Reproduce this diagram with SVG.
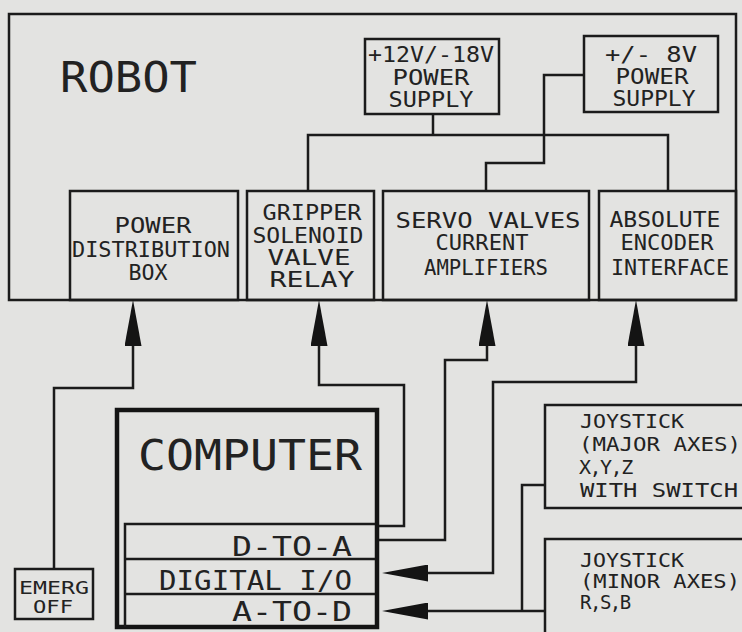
<svg xmlns="http://www.w3.org/2000/svg" width="742" height="632" viewBox="0 0 742 632">
<defs>
<style>
.bx{fill:none;stroke:#1b1b1b;stroke-width:2.5}
.thick{fill:none;stroke:#141414;stroke-width:4.5}
.ln{fill:none;stroke:#1b1b1b;stroke-width:2.5;stroke-linejoin:miter}
text{font-family:"DejaVu Sans Mono","Liberation Mono",monospace;fill:#222;}
.c{text-anchor:middle}
.t22{font-size:21px}
.t20{font-size:20px}
.t19{font-size:19px}
.t17{font-size:17px}
.t28{font-size:27px}
.big{font-size:42px}
.tight{letter-spacing:-1.5px}
</style>
<marker id="ah" markerUnits="userSpaceOnUse" viewBox="0 0 46 17" refX="36" refY="8.5" markerWidth="46" markerHeight="17" orient="auto-start-reverse">
<path d="M0,0 L46,8.5 L0,17 Z" fill="#141414"/>
</marker>
</defs>
<rect width="742" height="632" fill="#e3e3e1"/>

<g id="robot">
<rect class="bx" x="9" y="14" width="727" height="286"/>
<text class="big" x="60" y="92" textLength="137" lengthAdjust="spacingAndGlyphs">ROBOT</text>
</g>

<g id="ps12">
<rect class="bx" x="365" y="39" width="134" height="75"/>
<text class="t22 c" x="431" y="62" textLength="126" lengthAdjust="spacingAndGlyphs">+12V/-18V</text>
<text class="t22 c" x="431" y="85" textLength="77" lengthAdjust="spacingAndGlyphs">POWER</text>
<text class="t22 c" x="431" y="107" textLength="85" lengthAdjust="spacingAndGlyphs">SUPPLY</text>
</g>

<g id="ps8">
<rect class="bx" x="584" y="36" width="134" height="76"/>
<text class="t22 c" x="651" y="62" textLength="92" lengthAdjust="spacingAndGlyphs" xml:space="preserve">+/- 8V</text>
<text class="t22 c" x="652" y="84" textLength="73" lengthAdjust="spacingAndGlyphs">POWER</text>
<text class="t22 c" x="654" y="106" textLength="83" lengthAdjust="spacingAndGlyphs">SUPPLY</text>
</g>

<g id="powerdist">
<rect class="bx" x="70" y="191" width="168" height="109"/>
<text class="t22 c" x="153" y="233" textLength="77" lengthAdjust="spacingAndGlyphs">POWER</text>
<text class="t22 c" x="151" y="257" textLength="158" lengthAdjust="spacingAndGlyphs">DISTRIBUTION</text>
<text class="t22 c" x="148" y="280" textLength="39" lengthAdjust="spacingAndGlyphs">BOX</text>
</g>

<g id="gripper">
<rect class="bx" x="247" y="191" width="127" height="109"/>
<text class="t22 c" x="312" y="220" textLength="99" lengthAdjust="spacingAndGlyphs">GRIPPER</text>
<text class="t22 c" x="308" y="243" textLength="111" lengthAdjust="spacingAndGlyphs">SOLENOID</text>
<text class="t22 c" x="309" y="265" textLength="83" lengthAdjust="spacingAndGlyphs">VALVE</text>
<text class="t22 c" x="312" y="287" textLength="85" lengthAdjust="spacingAndGlyphs">RELAY</text>
</g>

<g id="servo">
<rect class="bx" x="383" y="191" width="206" height="109"/>
<text class="t22 c" x="488" y="228" textLength="185" lengthAdjust="spacingAndGlyphs">SERVO VALVES</text>
<text class="t22 c" x="482" y="250" textLength="93" lengthAdjust="spacingAndGlyphs">CURRENT</text>
<text class="t22 c" x="486" y="275" textLength="124" lengthAdjust="spacingAndGlyphs">AMPLIFIERS</text>
</g>

<g id="encoder">
<rect class="bx" x="599" y="191" width="137" height="109"/>
<text class="t22 c" x="665" y="227" textLength="111" lengthAdjust="spacingAndGlyphs">ABSOLUTE</text>
<text class="t22 c" x="667" y="250" textLength="93" lengthAdjust="spacingAndGlyphs">ENCODER</text>
<text class="t22 c" x="670" y="275" textLength="118" lengthAdjust="spacingAndGlyphs">INTERFACE</text>
</g>

<g id="computer">
<rect class="thick" x="117" y="410" width="260" height="217"/>
<path class="bx" d="M125,627 V524 H375 M125,559 H375 M125,594 H375"/>
<text class="big" x="138" y="470" textLength="224" lengthAdjust="spacingAndGlyphs">COMPUTER</text>
<text class="t28" x="352" y="556" text-anchor="end" textLength="120" lengthAdjust="spacingAndGlyphs">D-TO-A</text>
<text class="t28" x="352" y="590" text-anchor="end" textLength="193" lengthAdjust="spacingAndGlyphs">DIGITAL I/O</text>
<text class="t28" x="352" y="621" text-anchor="end" textLength="120" lengthAdjust="spacingAndGlyphs">A-TO-D</text>
</g>

<g id="emerg">
<rect class="bx" x="15" y="569" width="78" height="50"/>
<text class="t17 c" x="54" y="594" textLength="70" lengthAdjust="spacingAndGlyphs">EMERG</text>
<text class="t17 c" x="53" y="613" textLength="40" lengthAdjust="spacingAndGlyphs">OFF</text>
</g>

<g id="joymajor">
<rect class="bx" x="545" y="405" width="220" height="103"/>
<text class="t20" x="580" y="428" textLength="104" lengthAdjust="spacingAndGlyphs">JOYSTICK</text>
<text class="t20" x="579" y="451" textLength="162" lengthAdjust="spacingAndGlyphs">(MAJOR AXES)</text>
<text class="t20 tight" x="579" y="474">X,Y,Z</text>
<text class="t20" x="580" y="497" textLength="158" lengthAdjust="spacingAndGlyphs">WITH SWITCH</text>
</g>

<g id="joyminor">
<rect class="bx" x="545" y="539" width="220" height="110"/>
<text class="t19" x="580" y="567" textLength="104" lengthAdjust="spacingAndGlyphs">JOYSTICK</text>
<text class="t19" x="580" y="588" textLength="160" lengthAdjust="spacingAndGlyphs">(MINOR AXES)</text>
<text class="t19 tight" x="580" y="609">R,S,B</text>
</g>

<g id="connectors">
<path class="ln" d="M433,114 V135"/>
<path class="ln" d="M308,191 V135 H668 V191"/>
<path class="ln" d="M584,75 H544 V163 H486 V191"/>
<path class="ln" d="M54,569 V388 H133 V310" marker-end="url(#ah)"/>
<path class="ln" d="M379,526 H404 V385 H319 V310" marker-end="url(#ah)"/>
<path class="ln" d="M379,540 H445 V360 H487 V310" marker-end="url(#ah)"/>
<path class="ln" d="M636,310 V382 H493 V573 H392" marker-start="url(#ah)" marker-end="url(#ah)"/>
<path class="ln" d="M545,611 H392" marker-end="url(#ah)"/>
<path class="ln" d="M545,485 H522 V611"/>
</g>
</svg>
